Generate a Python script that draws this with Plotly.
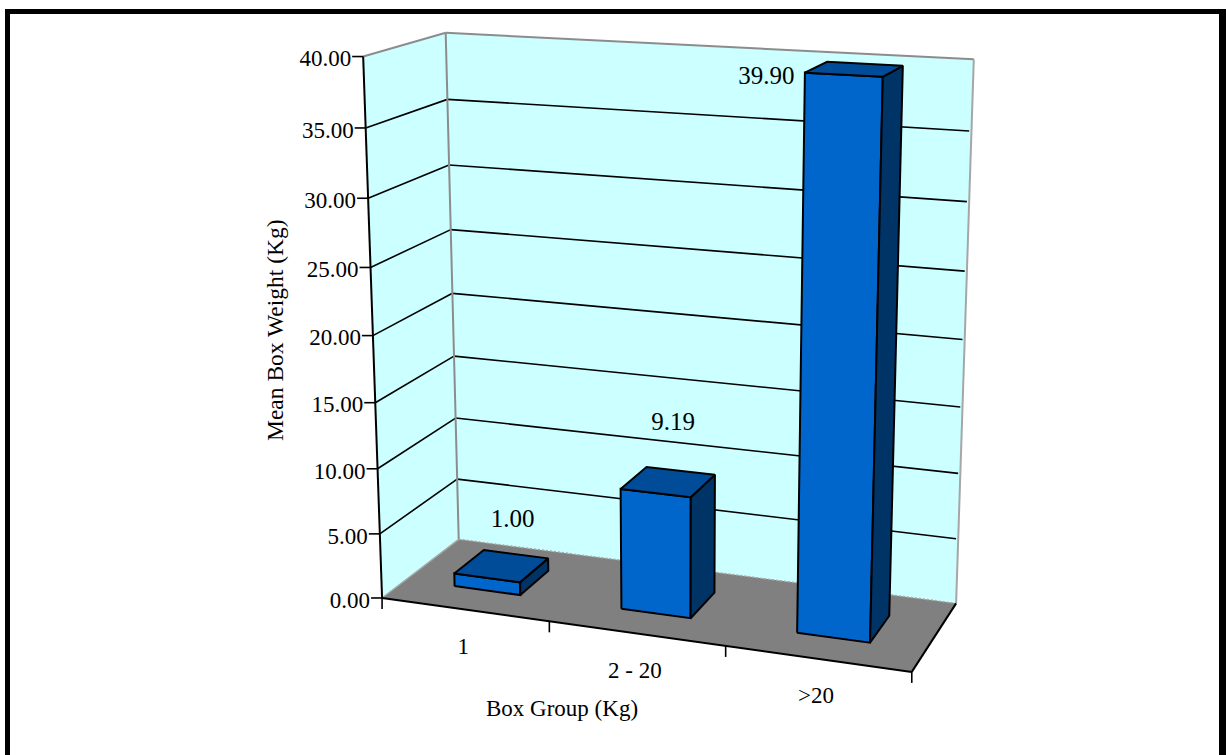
import numpy as np
import plotly.graph_objects as go

# ---- data ----
categories = ["1", "2 - 20", ">20"]
values = [1.00, 9.19, 39.90]
value_labels = ["1.00", "9.19", "39.90"]
z_ticks = [0, 5, 10, 15, 20, 25, 30, 35, 40]
z_tick_labels = ["0.00", "5.00", "10.00", "15.00", "20.00", "25.00", "30.00", "35.00", "40.00"]
x_title = "Box Group (Kg)"
z_title = "Mean Box Weight (Kg)"

# ---- view of the 3-D box: (category pos, depth 0-1, value) seen at screen point ----
W, H = 1226, 755
view_world = np.array([[0,0,0],[0,0,40],[0,1,0],[0,1,40],[3,1,40],[3,1,0],[3,0,0],
                       [1,0,0],[2,0,0],[0,0,35],[0,1,35]], float)
view_screen = np.array([[381.7,597.3],[363.3,57.3],[459.3,539.3],[445.7,33],[974,59.3],[956,603.3],
                        [911.7,671],[549.3,622],[725.7,647],[366,127],[446.7,99.3]], float)

def fit_view(w, s):
    A = []
    for (x, y, z), (u, v) in zip(w, s):
        A.append([x, y, z, 1, 0, 0, 0, 0, -u*x, -u*y, -u*z, -u])
        A.append([0, 0, 0, 0, x, y, z, 1, -v*x, -v*y, -v*z, -v])
    return np.linalg.svd(np.array(A))[2][-1].reshape(3, 4)

P = fit_view(view_world, view_screen)

def pr(x, y, z):
    q = P @ np.array([x, y, z, 1.0])
    return q[0]/q[2], q[1]/q[2]

def poly(points):
    xy = [pr(*p) for p in points]
    return [a for a, _ in xy], [b for _, b in xy]

fig = go.Figure()

def fill(points, color, line="rgba(0,0,0,0)", width=0):
    xs, ys = poly(points + [points[0]])
    fig.add_trace(go.Scatter(x=xs, y=ys, mode="lines", fill="toself", fillcolor=color,
                             line=dict(color=line, width=width), hoverinfo="skip"))

def stroke(a, b, color, width, dash="solid"):
    xs, ys = poly([a, b])
    fig.add_trace(go.Scatter(x=xs, y=ys, mode="lines", line=dict(color=color, width=width, dash=dash),
                             hoverinfo="skip"))

X1, ZM = 3, z_ticks[-1]
WALL, FLOOR, EDGE = "#CCFFFF", "#808080", "#8C8C8C"
FACE, TOP, SIDE = "#0066CC", "#004C99", "#003366"

fill([(0,0,0),(0,1,0),(0,1,ZM),(0,0,ZM)], WALL)
fill([(0,1,0),(X1,1,0),(X1,1,ZM),(0,1,ZM)], WALL)
fill([(0,0,0),(X1,0,0),(X1,1,0),(0,1,0)], FLOOR)

for z in z_ticks[1:-1]:
    stroke((0,0,z),(0,1,z),"black",1.6)
    stroke((0,1,z),(X1-.012,1,z),"black",1.6)

stroke((0,0,ZM),(0,1,ZM),EDGE,2)
stroke((0,1,ZM),(X1,1,ZM),EDGE,2)
stroke((0,1,0),(0,1,ZM),EDGE,2)
stroke((X1,1,0),(X1,1,ZM),"#A6A6A6",2)
stroke((0,0,0),(0,1,0),"#A6A6A6",1.5)
stroke((0,1,0),(X1,1,0),"#A6A6A6",1.5,"2px,2px")
stroke((0,0,0),(0,0,ZM),"black",2)
stroke((0,0,0),(X1,0,0),"black",2)
stroke((X1,0,0),(X1,1,0),"black",2)

# tick marks: fixed screen length from the projected tick position
tx, ty = [], []
for z in z_ticks:
    u, v = pr(0,0,z)
    tx += [u-11, u, None]; ty += [v, v, None]
for i in range(len(categories)+1):
    u, v = pr(i,0,0)
    tx += [u, u, None]; ty += [v, v+11, None]
fig.add_trace(go.Scatter(x=tx, y=ty, mode="lines", line=dict(color="black", width=1.6), hoverinfo="skip"))

# bars
bar_x0, bar_x1, bar_y0, bar_y1 = .3, .7, .3, .7
for i, v in enumerate(values):
    a, b, c, d = i+bar_x0, i+bar_x1, bar_y0, bar_y1
    fill([(a,c,0),(b,c,0),(b,c,v),(a,c,v)], FACE, "black", 2)
    fill([(b,c,0),(b,d,0),(b,d,v),(b,c,v)], SIDE, "black", 2)
    fill([(a,c,v),(b,c,v),(b,d,v),(a,d,v)], TOP, "black", 2)

SERIF = "Liberation Serif"
def texts(xs, ys, labels, size, pos="middle center"):
    fig.add_trace(go.Scatter(x=xs, y=ys, mode="text", text=labels, textposition=pos,
                             textfont=dict(family=SERIF, size=size, color="black"), hoverinfo="skip"))

zx = [pr(0,0,z)[0]-12 for z in z_ticks]
zy = [pr(0,0,z)[1]+4 for z in z_ticks]
texts(zx, zy, z_tick_labels, 23, "middle left")
texts([pr(i+.5,0,0)[0]-1.5 for i in range(3)], [pr(i+.5,0,0)[1]+38.5 for i in range(3)], categories, 23)

label_offsets = [(11,-45),(5,-58),(-88,9)]
lx, ly = [], []
for i, v in enumerate(values):
    u, w = pr(i+.5,.5,v)
    lx.append(u+label_offsets[i][0]); ly.append(w+label_offsets[i][1])
texts(lx, ly, value_labels, 25)

ann = [dict(x=562, y=708, xref="x", yref="y", text=x_title, showarrow=False,
            font=dict(family=SERIF, size=23, color="black")),
       dict(x=275, y=330, xref="x", yref="y", text=z_title, textangle=-90, showarrow=False,
            font=dict(family=SERIF, size=23.5, color="black"))]
frame = [dict(type="rect", xref="x", yref="y", x0=a, x1=b, y0=c, y1=d, fillcolor="black", line_width=0, layer="above")
         for a, b, c, d in [(5,10,9,800),(5,1226,9,14),(1219,1226,9,800)]]

fig.update_layout(width=W, height=H, margin=dict(l=0,r=0,t=0,b=0), showlegend=False,
    paper_bgcolor="white", plot_bgcolor="white", annotations=ann, shapes=frame,
    xaxis=dict(range=[0,W], visible=False, fixedrange=True),
    yaxis=dict(range=[H,0], visible=False, fixedrange=True))
fig.write_html("out.html", config=dict(displayModeBar=False),
               post_script="document.body.style.margin='0';document.body.style.overflow='hidden';")
